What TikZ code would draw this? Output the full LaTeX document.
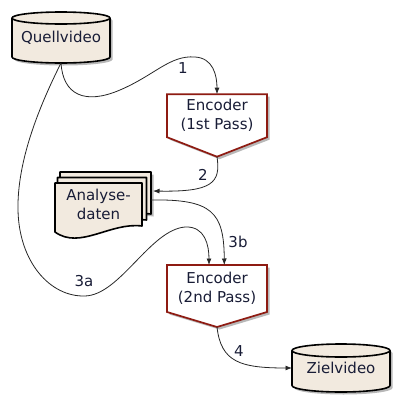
\documentclass[tikz,border=0pt]{standalone}
\usepackage{fontspec}
\setmainfont{DejaVu Sans}
\usetikzlibrary{arrows.meta,shadows,calc}
\definecolor{paper}{HTML}{F2EADF}
\definecolor{encred}{HTML}{8E1B12}
\definecolor{ink}{HTML}{181C36}
\pgfdeclarelayer{background}
\pgfsetlayers{background,main}
\begin{document}
\begin{tikzpicture}[x=1pt,y=-1pt,
  box/.style={inner sep=0pt, outer sep=0pt, align=center, text=ink,
    font=\fontsize{15}{19}\selectfont},
  lab/.style={inner sep=1pt, text=ink, font=\fontsize{15}{18}\selectfont},
  solidshape/.style={draw=black, line width=1.6pt, fill=paper, line join=round},
  encshape/.style={draw=encred, line width=1.7pt, fill=white, line join=miter},
  softshadow/.style={drop shadow={shadow xshift=2.5pt, shadow yshift=-2.5pt,
    opacity=0.28, fill=black}},
  conn/.style={draw=black!85, line width=0.8pt,
    -{Latex[length=6.5pt,width=5pt]}}
]
\useasboundingbox (0,0) rectangle (393,397);

% ---- nodes (text boxes sized like the shapes around them)
\node[box, minimum width=98pt, minimum height=51pt] (qv) at (61,37.5)
  {\raisebox{1.5pt}{Quellvideo}};
\node[box, minimum width=100pt, minimum height=43pt] (enc1) at (217,115.7)
  {Encoder\\(1st Pass)};
\node[box, minimum width=87pt, minimum height=43pt] (ad) at (98.5,204.5)
  {Analyse-\\daten};
\node[box, minimum width=100pt, minimum height=47pt] (enc2) at (217,288.5)
  {Encoder\\(2nd Pass)};
\node[box, minimum width=98pt, minimum height=48pt] (zv) at (341,368)
  {\raisebox{-7pt}{Zielvideo}};

\coordinate (enc1tip) at ($(enc1.south)+(0,19.5)$);
\coordinate (enc2tip) at ($(enc2.south)+(0,15)$);

% ---- shapes behind the text
\begin{pgfonlayer}{background}
  % Quellvideo cylinder
  \path[solidshape, softshadow]
    ($(qv.north west)+(0,6)$) -- ($(qv.south west)+(0,-6)$)
    arc[start angle=180, end angle=360, x radius=49pt, y radius=6pt]
    -- ($(qv.north east)+(0,6)$)
    arc[start angle=0, end angle=180, x radius=49pt, y radius=6pt] -- cycle;
  \draw[black, line width=1.6pt] ($(qv.north west)+(0,6)$)
    arc[start angle=180, end angle=360, x radius=49pt, y radius=6pt];

  % Zielvideo cylinder
  \path[solidshape, softshadow]
    ($(zv.north west)+(0,6.5)$) -- ($(zv.south west)+(0,-6.5)$)
    arc[start angle=180, end angle=360, x radius=49pt, y radius=6.5pt]
    -- ($(zv.north east)+(0,6.5)$)
    arc[start angle=0, end angle=180, x radius=49pt, y radius=6.5pt] -- cycle;
  \draw[black, line width=1.6pt] ($(zv.north west)+(0,6.5)$)
    arc[start angle=180, end angle=360, x radius=49pt, y radius=6.5pt];

  % Encoder pentagons
  \path[encshape, softshadow] (enc1.north west) -- (enc1.north east)
    -- (enc1.south east) -- (enc1tip) -- (enc1.south west) -- cycle;
  \path[encshape, softshadow] (enc2.north west) -- (enc2.north east)
    -- (enc2.south east) -- (enc2tip) -- (enc2.south west) -- cycle;

  % Analysedaten: stack of three documents
  \path[solidshape, softshadow]
    ($(ad.north west)+(5,-11)$) -- ($(ad.north east)+(9,-11)$)
    -- ($(ad.north east)+(9,31)$)
    .. controls ($(ad.north east)+(-23,27)$) and ($(ad.north west)+(37,55)$)
    .. ($(ad.north west)+(5,38)$) -- cycle;
  \path[solidshape]
    ($(ad.north west)+(2.5,-5.5)$) -- ($(ad.north east)+(4.5,-5.5)$)
    -- ($(ad.north east)+(4.5,37)$)
    .. controls ($(ad.north east)+(-27.5,33)$) and ($(ad.north west)+(34.5,61)$)
    .. ($(ad.north west)+(2.5,44)$) -- cycle;
  \path[solidshape]
    (ad.north west) -- (ad.north east) -- ($(ad.north east)+(0,43)$)
    .. controls ($(ad.north east)+(-32,39)$) and ($(ad.north west)+(25,67)$)
    .. ($(ad.north west)+(0,49)$) -- cycle;
\end{pgfonlayer}

% ---- connectors
\draw[conn] (qv.south) .. controls (63,95) and (85,105) .. (120,90)
  .. controls (155,75) and (170,55) .. (195,57)
  .. controls (213,58) and (217,75) .. (enc1.north);
\draw[conn] (enc1tip) .. controls (221,183) and (212,192)
  .. ([xshift=11pt,yshift=-8pt]ad.north east);
\draw[conn] ([xshift=9pt,yshift=-17pt]ad.north east)
  .. controls (212,199) and (224,212) .. ([xshift=7.3pt]enc2.north);
\draw[conn] (qv.south) .. controls (40,105) and (17,160) .. (18,210)
  .. controls (19,262) and (50,297) .. (85,296)
  .. controls (120,295) and (150,230) .. (185,227)
  .. controls (205,226) and (209,245) .. ([xshift=-8pt]enc2.north);
\draw[conn] (enc2tip) .. controls (221,362) and (240,368) .. (zv.west);

% ---- connector labels
\node[lab] (l1) at (183,68) {1};
\node[lab] (l2) at (203,175) {2};
\node[lab] (l3a) at (84,281) {3a};
\node[lab] (l3b) at (238,242) {3b};
\node[lab] (l4) at (239,351) {4};
\end{tikzpicture}
\end{document}
